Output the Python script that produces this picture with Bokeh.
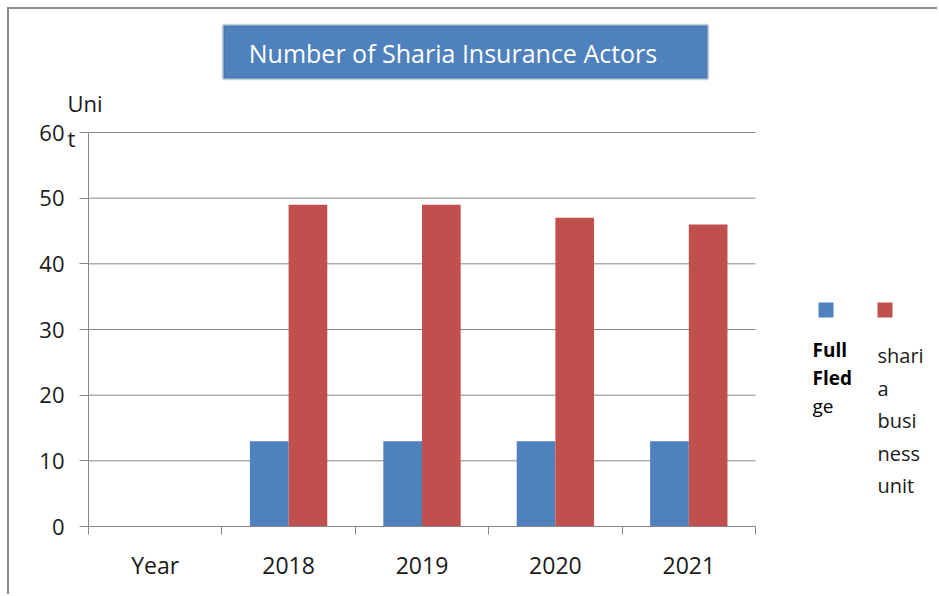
from bokeh.plotting import figure
from bokeh.models import Range1d, FixedTicker, Label, BoxAnnotation, ColumnDataSource
from bokeh.embed import file_html
from bokeh.resources import INLINE

categories = ["Year", "2018", "2019", "2020", "2021"]
full_fledge = [float("nan"), 13, 13, 13, 13]
sharia_unit = [float("nan"), 49, 49, 47, 46]
y_ticks = [0, 10, 20, 30, 40, 50, 60]
series_names = ["Full Fledge", "sharia business unit"]
legend_wrapped = [["Full", "Fled", "ge"], ["shari", "a", "busi", "ness", "unit"]]
title_text = "Number of Sharia Insurance Actors"
y_title_lines = ["Uni", "t"]

FONT = "Open Sans"
BLUE = "#4f81bd"
RED = "#c0504d"
GRID = "#878787"
TXT = "#1a1a1a"
BW = 0.29

# layout (pixels)
LEFT, BOTTOM = 88, 68
FW, FH = 849, 526
CAT_PX = 667 / len(categories)
UNIT_PX = 394 / y_ticks[-1]

p = figure(frame_width=FW, frame_height=FH, min_border_left=LEFT, min_border_right=0,
           min_border_top=0, min_border_bottom=BOTTOM,
           x_range=Range1d(0, FW / CAT_PX), y_range=Range1d(0, FH / UNIT_PX),
           output_backend="svg", toolbar_location=None)
p.border_fill_color = None
p.background_fill_color = None
# thin grey chart-area border (top and left edges)
p.styles = {"box-shadow": "inset 7px 7px 0 0 #ffffff, inset 9px 9px 0 0 #8c8c8c"}

idx = list(range(len(categories)))
n = len(categories)
src = ColumnDataSource(dict(
    xb=[i + 0.5 - BW / 2 for i in idx],
    xr=[i + 0.5 + BW / 2 for i in idx],
    ff=full_fledge, su=sharia_unit))

# horizontal gridlines limited to the chart area
p.segment(x0=[0] * (len(y_ticks) - 1), x1=[n] * (len(y_ticks) - 1),
          y0=y_ticks[1:], y1=y_ticks[1:], line_color=GRID, line_width=1)

p.vbar(x="xb", top="ff", width=BW, source=src, fill_color=BLUE, line_color=None)
p.vbar(x="xr", top="su", width=BW, source=src, fill_color=RED, line_color=None)

p.outline_line_color = None
p.xgrid.visible = False
p.ygrid.visible = False

p.yaxis.ticker = FixedTicker(ticks=y_ticks)
p.yaxis.bounds = (y_ticks[0], y_ticks[-1])
p.yaxis.axis_line_color = GRID
p.yaxis.major_tick_line_color = GRID
p.yaxis.major_tick_out = 9
p.yaxis.major_tick_in = 0
p.yaxis.minor_tick_line_color = None
p.yaxis.major_label_text_font = FONT
p.yaxis.major_label_text_font_size = "22px"
p.yaxis.major_label_text_color = TXT
p.yaxis.major_label_standoff = 15

p.xaxis.ticker = FixedTicker(ticks=[i + 0.5 for i in idx], minor_ticks=list(range(n + 1)))
p.xaxis.bounds = (0, n)
p.xaxis.major_label_overrides = {i + 0.5: c for i, c in zip(idx, categories)}
p.xaxis.axis_line_color = GRID
p.xaxis.major_tick_line_color = None
p.xaxis.major_tick_out = 8
p.xaxis.minor_tick_line_color = GRID
p.xaxis.minor_tick_out = 8
p.xaxis.minor_tick_in = 0
p.xaxis.major_label_text_font = FONT
p.xaxis.major_label_text_font_size = "23px"
p.xaxis.major_label_text_color = TXT
p.xaxis.major_label_standoff = 14

# title box (inside the frame region)
p.add_layout(BoxAnnotation(left=135, right=619, bottom=448, top=501,
                           left_units="screen", right_units="screen",
                           bottom_units="screen", top_units="screen",
                           fill_color=BLUE, fill_alpha=1, line_color="#3a5f8d", line_width=3.5))
p.add_layout(Label(x=364.5, y=474, x_units="screen", y_units="screen", text=title_text,
                   text_align="center", text_baseline="middle", text_color="white",
                   text_font=FONT, text_font_size="25px"))

# y axis title (wrapped), placed in the left panel so it is not clipped
p.add_layout(Label(x=-21 / CAT_PX, y=(FH - 87) / UNIT_PX, text="\n".join(y_title_lines),
                   text_font=FONT, text_font_size="22px", text_color=TXT,
                   text_align="left", text_baseline="top", text_line_height=1.17), "left")

# legend
for (left, color) in [(730, BLUE), (789, RED)]:
    p.add_layout(BoxAnnotation(left=left, right=left + 15, bottom=209, top=224,
                               left_units="screen", right_units="screen",
                               bottom_units="screen", top_units="screen",
                               fill_color=color, fill_alpha=1, line_color=None))
for j, t in enumerate(legend_wrapped[0]):
    p.add_layout(Label(x=724, y=177 - 28 * j, x_units="screen", y_units="screen", text=t,
                       text_font=FONT, text_font_size="19px",
                       text_font_style="bold" if j < 2 else "normal",
                       text_color="black", text_baseline="alphabetic"))
for j, t in enumerate(legend_wrapped[1]):
    p.add_layout(Label(x=789, y=171 - 32.5 * j, x_units="screen", y_units="screen", text=t,
                       text_font=FONT, text_font_size="20px",
                       text_color=TXT, text_baseline="alphabetic"))

open("out.html", "w").write(file_html(p, INLINE))
